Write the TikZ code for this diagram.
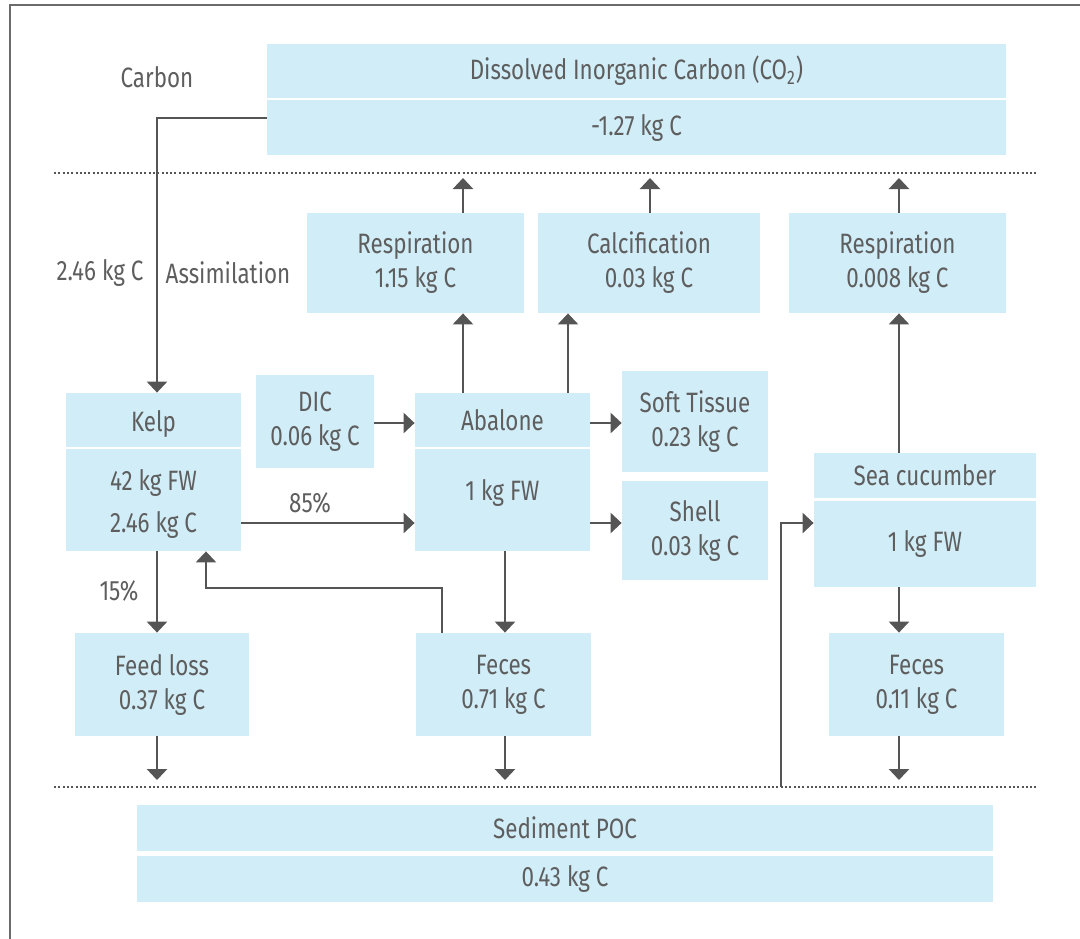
\documentclass[tikz,border=0pt]{standalone}
\usepackage{fontspec}
\setmainfont{Fira Sans}[FakeStretch=0.8]
\usetikzlibrary{arrows.meta}
\definecolor{boxblue}{HTML}{D1EDF8}
\definecolor{ink}{HTML}{5E5E5E}
\definecolor{lin}{HTML}{555555}
\definecolor{framec}{HTML}{6B6B6B}
\begin{document}
\begin{tikzpicture}[x=0.5pt,y=-0.5pt,
  bx/.style n args={2}{minimum width=#1*0.5pt, minimum height=#2*0.5pt},
  box/.style={fill=boxblue, inner sep=0pt, align=center, text=ink, font=\fontsize{14}{17}\selectfont},
  lbl/.style={text=ink, inner sep=0pt, font=\fontsize{14}{17}\selectfont},
  arr/.style={draw=lin, line width=1.3pt, -{Triangle[width=10pt,length=5.5pt]}},
  sep/.style={draw=lin, line width=1.1pt, dash pattern=on 1pt off 1.15pt},
]
\useasboundingbox (0,0) rectangle (1080,938);
\clip (0,0) rectangle (1080,938);
\draw[framec, line width=1pt] (10,5) rectangle (1110,970);

% boxes
\node[box,bx={739}{54}] (dicT) at (636.5,71) {Dissolved Inorganic Carbon (CO\textsubscript{2})};
\node[box,bx={739}{55}] (dicB) at (636.5,127.5) {-1.27 kg C};
\node[box,bx={217}{100}] (resp1) at (415.5,263) {Respiration\\1.15 kg C};
\node[box,bx={222}{100}] (calc) at (649,263) {Calcification\\0.03 kg C};
\node[box,bx={217}{100}] (resp2) at (897.5,263) {Respiration\\0.008 kg C};
\node[box,bx={175}{54}] (kelpT) at (153.5,420) {\raisebox{-2pt}[\height][\depth]{Kelp}};
\node[box,bx={175}{102}] (kelpB) at (153.5,500) {\raisebox{-2pt}[\height][\depth]{42 kg FW}\\[4pt]\raisebox{-2pt}[\height][\depth]{2.46 kg C}};
\node[box,bx={118}{93}] (dic) at (315,421.5) {DIC\\0.06 kg C};
\node[box,bx={175}{54}] (abT) at (502.5,420) {Abalone};
\node[box,bx={175}{102}] (abB) at (502.5,500) {\raisebox{3.5pt}[\height][\depth]{1 kg FW}};
\node[box,bx={146}{101}] (soft) at (695,421.5) {Soft Tissue\\0.23 kg C};
\node[box,bx={146}{99}] (shell) at (695,530.5) {Shell\\0.03 kg C};
\node[box,bx={222}{45}] (seaT) at (925,475.5) {Sea cucumber};
\node[box,bx={222}{86}] (seaB) at (925,544) {1 kg FW};
\node[box,bx={174}{103}] (feedloss) at (162,684.5) {Feed loss\\0.37 kg C};
\node[box,bx={175}{103}] (feces1) at (503.5,684.5) {Feces\\0.71 kg C};
\node[box,bx={175}{103}] (feces2) at (916.5,684.5) {Feces\\0.11 kg C};
\node[box,bx={856}{46}] (sedT) at (565,828) {Sediment POC};
\node[box,bx={856}{46}] (sedB) at (565,879) {0.43 kg C};

% labels
\node[lbl] (carbon) at (157,77) {Carbon};
\node[lbl] (kgc) at (100,273) {2.46 kg C};
\node[lbl] (assim) at (228,273) {Assimilation};
\node[lbl] (p85) at (310,503) {85\%};
\node[lbl] (p15) at (119,591) {15\%};

% dotted separators
\coordinate (d1) at (54,173);
\coordinate (d2) at (1036,173);
\coordinate (d3) at (54,787);
\coordinate (d4) at (1036,787);
\draw[sep] (d1) -- (d2);
\draw[sep] (d3) -- (d4);

% helper coordinates
\coordinate (u1) at (463,178);
\coordinate (u2) at (650,178);
\coordinate (u3) at (899,178);
\coordinate (c2) at (568,0);
\coordinate (h1) at (0,423);
\coordinate (h2) at (0,523);
\coordinate (v1) at (157,0);
\coordinate (v2) at (505,0);
\coordinate (fb1) at (442,588);
\coordinate (fb2) at (206,588);
\coordinate (b1) at (157,780);
\coordinate (b2) at (505,780);
\coordinate (b3) at (899,780);
\coordinate (si) at (781,787);

% connectors
\draw[arr] ([yshift=4.75pt]dicB.west) -| ([xshift=1.75pt]kelpT.north);
\draw[arr] (resp1.north -| u1) -- (u1);
\draw[arr] (calc.north -| u2) -- (u2);
\draw[arr] (resp2.north -| u3) -- (u3);
\draw[arr] (abT.north -| u1) -- (resp1.south -| u1);
\draw[arr] (abT.north -| c2) -- (calc.south -| c2);
\draw[arr] (seaT.north -| u3) -- (resp2.south -| u3);
\draw[arr] (dic.east |- h1) -- (abT.west |- h1);
\draw[arr] (abT.east |- h1) -- (soft.west |- h1);
\draw[arr] (kelpB.east |- h2) -- (abB.west |- h2);
\draw[arr] (abB.east |- h2) -- (shell.west |- h2);
\draw[arr] (kelpB.south -| v1) -- (feedloss.north -| v1);
\draw[arr] (abB.south -| v2) -- (feces1.north -| v2);
\draw[arr] (feces1.north -| fb1) -- (fb1) -- (fb2) -- (kelpB.south -| fb2);
\draw[arr] (feedloss.south -| b1) -- (b1);
\draw[arr] (feces1.south -| b2) -- (b2);
\draw[arr] (feces2.south -| b3) -- (b3);
\draw[arr] (seaB.south -| u3) -- (feces2.north -| u3);
\draw[arr] (si) |- (seaB.west |- h2);
\end{tikzpicture}
\end{document}
